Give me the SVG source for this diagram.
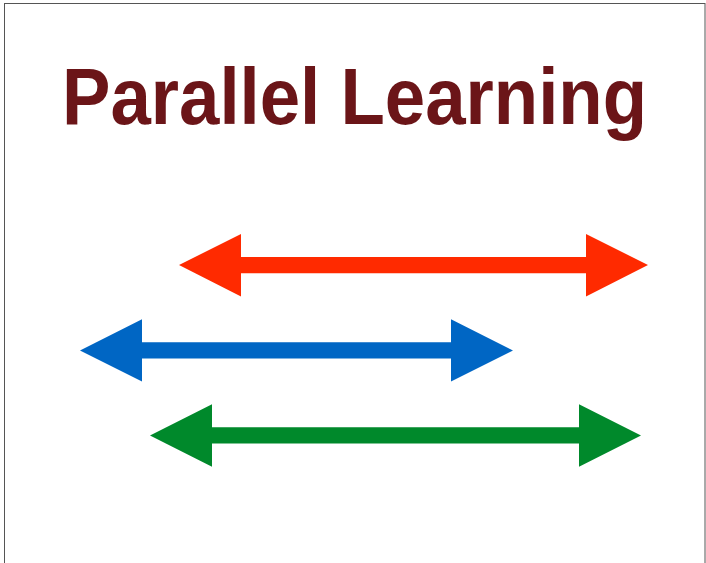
<svg xmlns="http://www.w3.org/2000/svg" width="706" height="563" viewBox="0 0 706 563">
  <style>
    .frame { fill: #ffffff; stroke: #555555; stroke-width: 1; }
    .title { font-family: "Comic Sans MS", "Liberation Sans", sans-serif; font-weight: bold; font-size: 79px; fill: #6b1518; }
    .red { fill: #ff2a00; }
    .blue { fill: #0066c4; }
    .green { fill: #00892b; }
  </style>
  <rect width="706" height="563" fill="#ffffff"/>
  <rect class="frame" x="4.5" y="3.5" width="700.5" height="600"/>

  <g id="title">
    <text class="title" x="62" y="123.5" textLength="585" lengthAdjust="spacingAndGlyphs">Parallel Learning</text>
  </g>

  <!-- three double-headed arrows -->
  <g id="connectors">
    <polygon id="arrow-red" class="red" points="179,265 241,234 241,257 586,257 586,234 648,265 586,296.5 586,273.3 241,273.3 241,296.5"/>
    <polygon id="arrow-blue" class="blue" points="80,350.5 142,319.3 142,342.3 451,342.3 451,319.3 513,350.5 451,381.5 451,358.5 142,358.5 142,381.5"/>
    <polygon id="arrow-green" class="green" points="150,435.5 212,404.3 212,427.3 579,427.3 579,404.3 641,435.5 579,466.7 579,443.5 212,443.5 212,466.7"/>
  </g>
</svg>
